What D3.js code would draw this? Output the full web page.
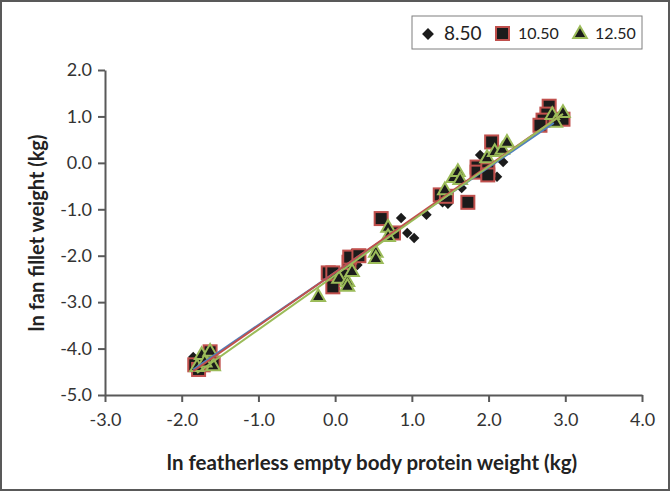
<!DOCTYPE html>
<html><head><meta charset="utf-8">
<script src="https://cdn.jsdelivr.net/npm/d3@7"></script>
<style>
html,body{margin:0;padding:0;background:#fff;}
svg{display:block;font-family:Lato,"Open Sans",sans-serif;}
</style></head>
<body>
<svg id="chart" width="670" height="491"></svg>
<script>
// Data
const seriesNames = ["8.50", "10.50", "12.50"];
const x850 = [-1.85,-1.80,0.13,0.12,0.22,0.29,0.78,0.86,0.94,1.03,1.19,1.40,1.47,1.65,1.89,2.19,2.11,2.72];
const y850 = [-4.18,-4.32,-2.37,-2.46,-1.96,-2.20,-1.55,-1.19,-1.51,-1.62,-1.12,-0.85,-0.88,-0.54,0.17,0.02,-0.30,0.82];
const x1050 = [-1.83,-1.72,-1.59,-1.63,-1.78,-0.09,-0.03,-0.03,0.18,0.19,0.31,0.60,0.76,1.37,1.45,1.73,1.85,1.85,1.99,1.99,2.04,2.79,2.76,2.71,2.67,2.97];
const y1050 = [-4.35,-4.35,-4.31,-4.07,-4.45,-2.37,-2.37,-2.67,-2.14,-2.03,-2.00,-1.20,-1.51,-0.69,-0.72,-0.85,-0.09,-0.20,-0.15,-0.26,0.45,1.22,1.05,0.92,0.81,0.94];
const x1250 = [-1.74,-1.63,-1.80,-1.59,-1.70,-0.22,0.05,0.16,0.16,0.22,0.53,0.53,0.69,0.69,1.43,1.54,1.60,1.63,1.98,2.08,2.18,2.24,2.83,2.97,2.87];
const y1250 = [-4.14,-4.07,-4.40,-4.38,-4.30,-2.89,-2.50,-2.57,-2.67,-2.35,-1.94,-2.07,-1.40,-1.60,-0.59,-0.33,-0.20,-0.37,0.10,0.23,0.28,0.43,1.03,1.07,0.86];
// regression lines: [intercept, slope, xmin, xmax]
const line850 = [-2.36, 1.13, -1.85, 2.85];
const line1050 = [-2.36, 1.15, -1.85, 2.95];
const line1250 = [-2.42, 1.17, -1.80, 2.97];
const xTicks = [-3,-2,-1,0,1,2,3,4];
const yTicks = [-5,-4,-3,-2,-1,0,1,2];
const xTitle = "ln featherless empty body protein weight (kg)";
const yTitle = "ln fan fillet weight (kg)";

const svg = d3.select("#chart");
// outer frame
svg.append("rect").attr("x",1).attr("y",1).attr("width",668).attr("height",489)
  .attr("fill","#fff").attr("stroke","#595959").attr("stroke-width",2);

const x = d3.scaleLinear().domain([-3,4]).range([105,642]);
const y = d3.scaleLinear().domain([-5,2]).range([395,70]);
const fmt = d => d.toFixed(1);

const axisColor = "#595959";
const xAxis = svg.append("g").attr("transform","translate(0,395)")
  .call(d3.axisBottom(x).tickValues(xTicks).tickFormat(fmt).tickSize(7).tickSizeOuter(0));
const yAxis = svg.append("g").attr("transform","translate(105,0)")
  .call(d3.axisLeft(y).tickValues(yTicks).tickFormat(fmt).tickSize(7).tickSizeOuter(0));
[xAxis,yAxis].forEach(a=>{
  a.attr("font-size",null).attr("font-family",null);
  a.select(".domain").attr("stroke",axisColor).attr("stroke-width",2);
  a.selectAll(".tick line").attr("stroke",axisColor).attr("stroke-width",2);
  a.selectAll(".tick text").attr("fill","#333").style("font-size","18px").style("font-family","Lato,'Open Sans',sans-serif");
});
xAxis.selectAll(".tick text").attr("dy","0.71em").attr("y",18);
yAxis.selectAll(".tick text").attr("x",-13);

// titles
svg.append("text").attr("x",372).attr("y",470).attr("text-anchor","middle")
  .attr("fill","#222").style("font-size","20.5px").style("font-weight","bold").text(xTitle);
svg.append("text").attr("transform","translate(39,233) rotate(-90)").attr("text-anchor","middle")
  .attr("dominant-baseline","middle")
  .attr("fill","#222").style("font-size","20px").style("font-weight","bold").text(yTitle);

const colors = {blue:"#4f81bd", red:"#c0504d", green:"#9bbb59"};
const fillC = "#1b1b1b";

// points
const mk = (xs,ys)=>xs.map((v,i)=>({x:v,y:ys[i]}));
svg.append("g").selectAll("path").data(mk(x850,y850)).join("path")
  .attr("d",d3.symbol().type(d3.symbolSquare).size(55))
  .attr("transform",d=>`translate(${x(d.x)},${y(d.y)}) rotate(45)`)
  .attr("fill",fillC);
svg.append("g").selectAll("rect").data(mk(x1050,y1050)).join("rect")
  .attr("x",d=>x(d.x)-6.5).attr("y",d=>y(d.y)-6.5).attr("width",13).attr("height",13)
  .attr("fill",fillC).attr("stroke",colors.red).attr("stroke-width",2);
svg.append("g").selectAll("path").data(mk(x1250,y1250)).join("path")
  .attr("transform",d=>`translate(${x(d.x)},${y(d.y)})`)
  .attr("d",d3.symbol().type(d3.symbolTriangle).size(80))
  .attr("fill",fillC).attr("stroke",colors.green).attr("stroke-width",2);

// regression lines
const lineGen = d3.line().x(d=>x(d[0])).y(d=>y(d[1]));
[[line850,colors.blue],[line1050,colors.red],[line1250,colors.green]].forEach(([p,c])=>{
  const pts = [[p[2],p[0]+p[1]*p[2]],[p[3],p[0]+p[1]*p[3]]];
  svg.append("path").attr("d",lineGen(pts)).attr("stroke",c).attr("stroke-width",2).attr("fill","none");
});

// legend
const lg = svg.append("g");
lg.append("rect").attr("x",412).attr("y",16).attr("width",230).attr("height",33)
  .attr("fill","#fff").attr("stroke","#7f7f7f").attr("stroke-width",1);
lg.append("path").attr("d",d3.symbol().type(d3.symbolSquare).size(70)())
  .attr("transform","translate(428,34) rotate(45)").attr("fill",fillC);
lg.append("text").attr("x",444).attr("y",40).style("font-size","19px").attr("fill","#222").text(seriesNames[0]);
lg.append("rect").attr("x",496).attr("y",27).attr("width",13).attr("height",13)
  .attr("fill",fillC).attr("stroke",colors.red).attr("stroke-width",2);
lg.append("text").attr("x",518).attr("y",39).style("font-size","16px").attr("fill","#222").text(seriesNames[1]);
lg.append("path").attr("d",d3.symbol().type(d3.symbolTriangle).size(80)())
  .attr("transform","translate(580,34)").attr("fill",fillC).attr("stroke",colors.green).attr("stroke-width",2);
lg.append("text").attr("x",595).attr("y",39).style("font-size","16px").attr("fill","#222").text(seriesNames[2]);
</script>
</body></html>
